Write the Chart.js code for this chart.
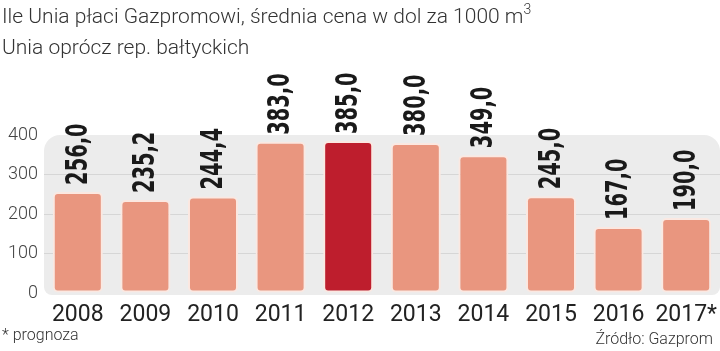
<!DOCTYPE html>
<html>
<head>
<meta charset="utf-8">
<script src="https://cdn.jsdelivr.net/npm/chart.js@4/dist/chart.umd.min.js"></script>
<style>
    body { margin: 0; background: #fff; }
    #wrap { position: relative; width: 720px; height: 351px; overflow: hidden; }
    #chart { position: absolute; left: 0; top: 0; }
    .txt { position: absolute; font-family: Roboto, "Open Sans", sans-serif; color: #333; white-space: nowrap; }
    #title1 { left: 2px; top: 4px; font-size: 21px; font-weight: 300; }
    #title2 { left: 2px; top: 35px; font-size: 21px; font-weight: 300; }
    #title1 sup { font-size: 14px; vertical-align: 9px; line-height: 0; }
    #note { left: 2px; top: 325px; font-size: 16px; font-weight: 300; }
    #source { right: 7px; top: 329px; font-size: 16px; font-weight: 300; }
</style>
</head>
<body>
<div id="wrap">
    <canvas id="chart" width="720" height="351"></canvas>
    <div class="txt" id="title1">Ile Unia płaci Gazpromowi, średnia cena w dol za 1000 m<sup>3</sup></div>
    <div class="txt" id="title2">Unia oprócz rep. bałtyckich</div>
    <div class="txt" id="note">* prognoza</div>
    <div class="txt" id="source">Źródło: Gazprom</div>
</div>
<script>
const years = ['2008', '2009', '2010', '2011', '2012', '2013', '2014', '2015', '2016', '2017*'];
const prices = [256.0, 235.2, 244.4, 383.0, 385.0, 380.0, 349.0, 245.0, 167.0, 190.0];
const highlightYear = '2012';

const barColors = years.map(y => y === highlightYear ? '#be1e2d' : '#e9967f');

// gray rounded panel behind the plot
const panelPlugin = {
    id: 'panel',
    beforeDraw(chart) {
        const a = chart.chartArea;
        const ctx = chart.ctx;
        ctx.save();
        ctx.fillStyle = '#ececec';
        ctx.beginPath();
        ctx.roundRect(a.left, a.top, a.right - a.left, a.bottom - a.top + 2, [16, 16, 8, 8]);
        ctx.fill();
        ctx.restore();
    }
};

// rotated value labels above each bar (squeezed to look condensed)
const labelPlugin = {
    id: 'valueLabels',
    afterDatasetsDraw(chart) {
        const ctx = chart.ctx;
        const meta = chart.getDatasetMeta(0);
        ctx.save();
        ctx.fillStyle = '#1a1a1a';
        ctx.font = 'bold 30px "Liberation Sans Narrow", "DejaVu Sans Condensed", sans-serif';
        ctx.textAlign = 'left';
        ctx.textBaseline = 'middle';
        meta.data.forEach((bar, i) => {
            const txt = prices[i].toFixed(1).replace('.', ',');
            ctx.save();
            ctx.translate(bar.x, bar.y - 7);
            ctx.rotate(-Math.PI / 2);
            ctx.scale(0.72, 1);
            ctx.fillText(txt, 0, 1);
            ctx.restore();
        });
        ctx.restore();
    }
};

new Chart(document.getElementById('chart').getContext('2d'), {
    type: 'bar',
    data: {
        labels: years,
        datasets: [{
            data: prices,
            backgroundColor: barColors,
            borderColor: '#fbe8e1',
            borderWidth: 2,
            borderRadius: 5,
            borderSkipped: false,
            barPercentage: 0.74,
            categoryPercentage: 1.0
        }]
    },
    options: {
        responsive: false,
        animation: false,
        layout: { padding: { top: 135, right: 0, left: 0, bottom: 0 } },
        plugins: {
            legend: { display: false },
            tooltip: { enabled: false }
        },
        scales: {
            x: {
                grid: { display: false },
                border: { display: false },
                ticks: {
                    color: '#222',
                    font: { family: 'Roboto, "Open Sans", sans-serif', size: 23 },
                    padding: 0,
                    maxRotation: 0,
                    autoSkip: false
                },
                afterFit(scale) { scale.height = 58; }
            },
            y: {
                min: 0,
                max: 400,
                grid: {
                    color: ctx => (ctx.tick && (ctx.tick.value === 0 || ctx.tick.value === 400)) ? 'rgba(0,0,0,0)' : '#d6d6d6',
                    lineWidth: 1,
                    drawTicks: false
                },
                border: { display: false },
                ticks: {
                    stepSize: 100,
                    color: '#444',
                    font: { family: 'Roboto, "Open Sans", sans-serif', size: 18, weight: 300 },
                    padding: 6
                },
                afterFit(scale) { scale.width = 44; }
            }
        }
    },
    plugins: [panelPlugin, labelPlugin]
});
</script>
</body>
</html>
